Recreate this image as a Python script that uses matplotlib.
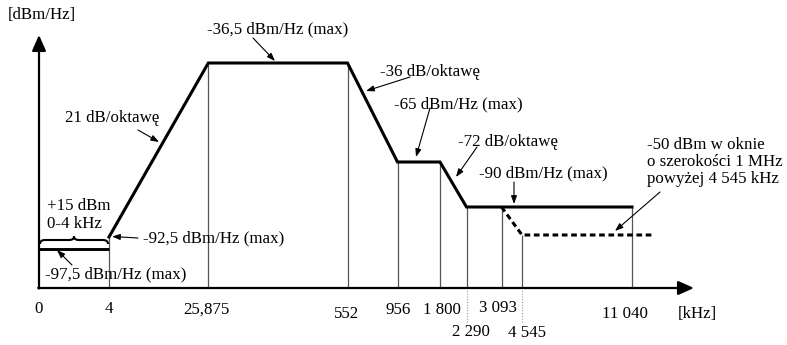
import numpy as np
import matplotlib
matplotlib.use("Agg")
import matplotlib.pyplot as plt
from matplotlib.path import Path
from matplotlib.patches import PathPatch
from matplotlib.transforms import Affine2D

# ---------------- data ----------------
tick_freqs_khz = [0, 4, 25.875, 552, 956, 1800, 2290, 3093, 4545, 11040]
tick_labels = ["0", "4", "25,875", "552", "956", "1 800", "2 290", "3 093", "4 545", "11 040"]

band_voice_freq = [0, 4]            # 0-4 kHz
band_voice_psd = [-97.5, -97.5]     # dBm/Hz

mask_freq = [4, 25.875, 552, 956, 1800, 2290, 11040]
mask_psd = [-92.5, -36.5, -36.5, -65, -65, -90, -90]

oob_freq = [3093, 4545, 12300]      # dashed out-of-band limit
oob_label_dbm_1mhz = -50

# ---------------- layout (schematic, non-linear axes) ----------------
W, H, DPI = 787, 345, 100
X_ANCH_F = [-1000, 0, 4, 25.875, 552, 956, 1800, 2290, 3093, 4545, 11040, 16000, 1e6]
X_ANCH_P = [-961, 39, 109, 208.3, 347.5, 397.5, 440, 466.5, 501.5, 522, 632, 715, 715 + (1e6 - 16000) / 60]
Y_ANCH_D = [-1e4, -120, -97.5, -92.5, -90, -65, -36.5, -20, 1e4]
Y_ANCH_P = [288 + 1e4, 288, 249, 237, 207, 162, 63, 35, 35 - 1e4]
DASH_PX = 235
FLOOR_DB = -120

def fx(f):
    return np.interp(f, X_ANCH_F, X_ANCH_P)

def fx_inv(p):
    return np.interp(p, X_ANCH_P, X_ANCH_F)

NEG_PY = [-p for p in Y_ANCH_P]

def fy(d):
    return -np.interp(d, Y_ANCH_D, Y_ANCH_P)

def fy_inv(q):
    return np.interp(q, NEG_PY, Y_ANCH_D)

plt.rcParams['font.family'] = ['Liberation Serif', 'DejaVu Serif']
FS = 12.2

fig = plt.figure(figsize=(W / DPI, H / DPI), dpi=DPI)
ax = fig.add_axes([0, 0, 1, 1])
ax.set_xscale('function', functions=(fx, fx_inv))
ax.set_yscale('function', functions=(fy, fy_inv))
ax.set_xlim(fx_inv(0), fx_inv(W))
ax.set_ylim(fy_inv(-H), fy_inv(0))
ax.axis('off')

# image-pixel transform (y downward)
pix = Affine2D().scale(1 / DPI, -1 / DPI).translate(0, H / DPI) + fig.dpi_scale_trans

dash_db = fy_inv(-DASH_PX)

# thin vertical lines from floor to the mask
for f in tick_freqs_khz[1:]:
    if f == 4545:
        top = dash_db
    else:
        top = np.interp(f, mask_freq, mask_psd)
    ax.vlines(f, FLOOR_DB, top, color='#555555', lw=0.9, zorder=1)

# dotted extensions below the axis
for f in [2290, 4545]:
    ax.vlines(f, fy_inv(-322), FLOOR_DB, color='#999999', lw=0.8,
              linestyles=(0, (1, 1.5)), zorder=1)

# mask
ax.plot(band_voice_freq, band_voice_psd, color='black', lw=2.1, solid_capstyle='butt', zorder=3)
ax.plot(mask_freq, mask_psd, color='black', lw=2.2, solid_joinstyle='miter', zorder=3)
ax.plot(oob_freq, [-90, dash_db, dash_db], color='black', lw=2.2,
        linestyle=(0, (1.85, 1.2)), zorder=3)

# axes with arrows
arr = dict(arrowstyle='-|>,head_length=0.95,head_width=0.42', lw=1.6, color='black',
           mutation_scale=10, shrinkA=0, shrinkB=0)
ax.annotate('', xy=(39, 35), xytext=(39, 288.5), xycoords=pix, textcoords=pix, arrowprops=arr)
ax.annotate('', xy=(694, 288), xytext=(38.2, 288), xycoords=pix, textcoords=pix, arrowprops=arr)

# brace over 0-4 kHz
bv = [(40, 244), (40, 240), (45, 240), (69, 240), (74, 240), (74, 236.5),
      (74, 240), (79, 240), (103, 240), (108, 240), (108, 244)]
bc = [Path.MOVETO, Path.CURVE3, Path.CURVE3, Path.LINETO, Path.CURVE3, Path.CURVE3,
      Path.CURVE3, Path.CURVE3, Path.LINETO, Path.CURVE3, Path.CURVE3]
ax.add_patch(PathPatch(Path(bv, bc), transform=pix, fill=False, lw=1.5, color='black'))

# tick labels
tick_dx = [0, 0, -2, -1, 1, 2, 4, -4, 5, -7]
tick_y = [309, 309, 310, 314, 310, 310, 332, 308, 333, 314]
for f, lab, dx, ty in zip(tick_freqs_khz, tick_labels, tick_dx, tick_y):
    ax.text(fx(f) + dx, ty, lab, transform=pix, ha='center', va='center', fontsize=FS)
ax.text(697, 314, "[kHz]", transform=pix, ha='center', va='center', fontsize=FS)
ax.text(8, 15, "[dBm/Hz]", transform=pix, ha='left', va='center', fontsize=FS)

# annotations
small = dict(arrowstyle='-|>,head_length=0.6,head_width=0.22', lw=0.8, color='black',
             mutation_scale=8, shrinkA=0, shrinkB=0)

def note(text, tx, ty, a0=None, a1=None):
    ax.text(tx, ty, text, transform=pix, ha='left', va='center', fontsize=FS,
            linespacing=1.1)
    if a0 is not None:
        ax.annotate('', xy=a1, xytext=a0, xycoords=pix, textcoords=pix, arrowprops=small)

note("-36,5 dBm/Hz (max)", 207, 29, (253, 38), (275, 61))
note("21 dB/oktawę", 65, 118, (138, 130), (159, 142))
note("-36 dB/oktawę", 380, 72, (410, 77), (366, 91))
note("-65 dBm/Hz (max)", 394, 104, (430, 108), (416, 157))
note("-72 dB/oktawę", 458, 142, (477, 147), (456, 177))
note("-90 dBm/Hz (max)", 479, 173, (514, 182), (514, 204))
note("+15 dBm\n0-4 kHz", 47, 215)
note("-92,5 dBm/Hz (max)", 143, 238, (138, 238), (112, 236.5))
note("-97,5 dBm/Hz (max)", 45, 274, (72, 265), (57, 250))
note("%d dBm w oknie\no szerokości 1 MHz\npowyżej 4 545 kHz" % oob_label_dbm_1mhz,
     647, 162, (660, 192), (615, 231))

fig.savefig("out.png", dpi=DPI)
